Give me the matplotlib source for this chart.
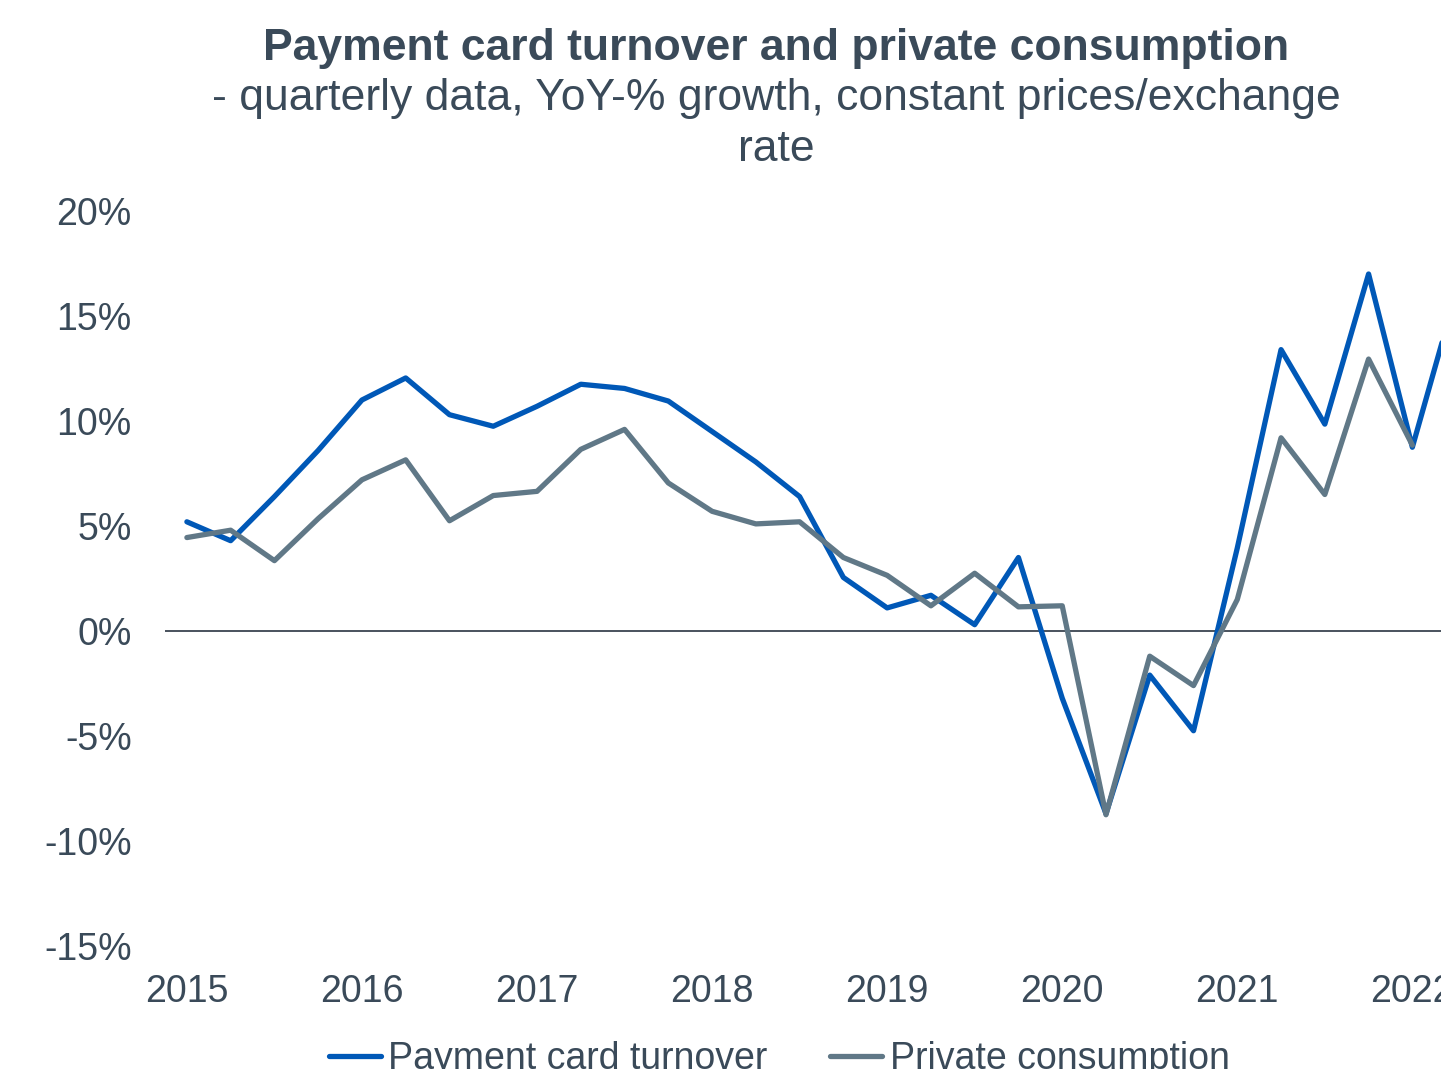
import matplotlib
matplotlib.use("Agg")
import matplotlib.pyplot as plt

years = ["2015", "2016", "2017", "2018", "2019", "2020", "2021", "2022"]
card_turnover = [5.2, 4.3, 6.4, 8.6, 11.0, 12.05, 10.3, 9.75,
                 10.7, 11.75, 11.55, 10.95, 9.5, 8.05, 6.4, 2.55,
                 1.1, 1.7, 0.3, 3.5, -3.2, -8.7, -2.1, -4.75,
                 3.95, 13.4, 9.85, 17.0, 8.75, 16.1]
private_consumption = [4.45, 4.8, 3.35, 5.35, 7.2, 8.15, 5.25, 6.45,
                       6.65, 8.65, 9.6, 7.05, 5.7, 5.1, 5.2, 3.5,
                       2.65, 1.2, 2.75, 1.15, 1.2, -8.75, -1.2, -2.6,
                       1.5, 9.2, 6.5, 12.95, 8.85]

TXT = "#3a4a59"
BLUE = "#0058b7"
GRAY = "#607887"

plt.rcParams['font.family'] = ['Liberation Sans', 'DejaVu Sans']

W, H = 1441, 1069
fig = plt.figure(figsize=(W / 100, H / 100), dpi=100)
left = 165 / W
right = 1478 / W
bottom = (H - 946) / H
top = (H - 211) / H
ax = fig.add_axes([left, bottom, right - left, top - bottom])

ax.plot(range(len(card_turnover)), card_turnover, color=BLUE, lw=3.8,
        solid_joinstyle='round', solid_capstyle='round', label="Payment card turnover", clip_on=False)
ax.plot(range(len(private_consumption)), private_consumption, color=GRAY, lw=3.8,
        solid_joinstyle='round', solid_capstyle='round', label="Private consumption", clip_on=False)
ax.axhline(0, color="#3a4450", lw=1.3, zorder=1)

ax.set_xlim(-0.5, len(card_turnover) - 0.5)
ax.set_ylim(-15, 20)
ax.set_yticks(range(-15, 21, 5))
ax.set_yticklabels([f"{v}%" for v in range(-15, 21, 5)])
ax.set_xticks([4 * i for i in range(len(years))])
ax.set_xticklabels(years)
ax.tick_params(length=0, labelsize=27, colors=TXT)
ax.tick_params(axis='y', pad=24)
ax.tick_params(axis='x', pad=20)
for s in ax.spines.values():
    s.set_visible(False)

fig.text(776 / W, (H - 60) / H, "Payment card turnover and private consumption",
         ha='center', va='baseline', fontsize=32, fontweight='bold', color=TXT)
fig.text(776 / W, (H - 110) / H, "- quarterly data, YoY-% growth, constant prices/exchange",
         ha='center', va='baseline', fontsize=32, color=TXT)
fig.text(776 / W, (H - 161) / H, "rate",
         ha='center', va='baseline', fontsize=32, color=TXT)

leg = fig.legend(loc='center', bbox_to_anchor=(779 / W, (H - 1059) / H), ncol=2,
                 frameon=False, fontsize=27, handlelength=1.4, handletextpad=0.2,
                 columnspacing=1.65, labelcolor=TXT, borderpad=0)

fig.savefig("out.png", dpi=100)
